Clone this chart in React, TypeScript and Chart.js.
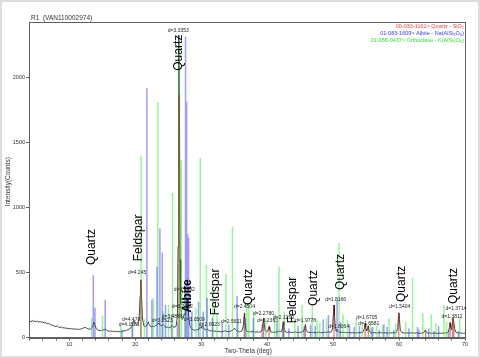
import React, { useEffect, useRef } from "react";
import { Chart, registerables } from "chart.js";
Chart.register(...registerables);

const xMin = 3.9;
const xMax = 70;
const yMax = 2430;
const yTicks = [0, 500, 1000, 1500, 2000];
const xTicks = [4, 6, 8, 10, 12, 14, 16, 18, 20, 22, 24, 26, 28, 30, 32, 34, 36, 38, 40, 42, 44, 46, 48, 50, 52, 54, 56, 58, 60, 62, 64, 66, 68, 70];
const xLabelled = [10, 20, 30, 40, 50, 60, 70];

const chartTitle = "R1  (VAN110002974)";
const xTitle = "Two-Theta (deg)";
const yTitle = "Intensity(Counts)";

// measured scan: [2-theta, counts]
const scan: [number, number][] = [
  [3.9, 125], [4.0, 128], [4.2, 122], [4.4, 130], [4.6, 124], [4.8, 127], [5.0, 121], [5.2, 126], [5.4, 119], [5.6, 123],
  [5.8, 117], [6.0, 120], [6.2, 112], [6.4, 115], [6.6, 108], [6.8, 104], [7.0, 107], [7.2, 98], [7.4, 95], [7.6, 92],
  [7.8, 87], [8.0, 84], [8.2, 88], [8.4, 80], [8.6, 77], [8.8, 81], [9.0, 74], [9.2, 76], [9.4, 71], [9.6, 73],
  [9.8, 68], [10.0, 70], [10.2, 66], [10.4, 69], [10.6, 64], [10.8, 67], [11.0, 63], [11.2, 66], [11.4, 61], [11.6, 64],
  [11.8, 66], [12.0, 70], [12.2, 74], [12.4, 78], [12.6, 72], [12.8, 68], [13.0, 63], [13.2, 66], [13.4, 72], [13.6, 95],
  [13.75, 118], [13.9, 96], [14.1, 68], [14.3, 58], [14.5, 55], [14.7, 52], [14.9, 55], [15.1, 60], [15.3, 58], [15.5, 64],
  [15.7, 56], [15.9, 50], [16.1, 48], [16.3, 51], [16.5, 46], [16.7, 49], [16.9, 45], [17.1, 48], [17.3, 44], [17.5, 47],
  [17.7, 43], [17.9, 46], [18.1, 48], [18.3, 52], [18.5, 50], [18.7, 56], [18.9, 60], [19.1, 66], [19.3, 72], [19.5, 90],
  [19.7, 118], [19.85, 132], [20.0, 110], [20.2, 98], [20.4, 104], [20.6, 150], [20.75, 320], [20.86, 445], [20.95, 330], [21.1, 150],
  [21.3, 92], [21.5, 84], [21.7, 90], [21.9, 108], [22.0, 120], [22.1, 102], [22.3, 86], [22.5, 82], [22.7, 88], [22.9, 84],
  [23.1, 92], [23.3, 98], [23.5, 112], [23.6, 104], [23.8, 96], [24.0, 90], [24.2, 102], [24.35, 94], [24.5, 84], [24.7, 78],
  [24.9, 80], [25.1, 74], [25.3, 78], [25.5, 86], [25.65, 92], [25.8, 80], [26.0, 78], [26.2, 90], [26.4, 160], [26.5, 700],
  [26.58, 1800], [26.64, 2330], [26.7, 1850], [26.8, 600], [26.9, 260], [27.0, 170], [27.1, 140], [27.3, 150], [27.45, 185], [27.6, 170],
  [27.75, 230], [27.88, 300], [28.0, 250], [28.15, 140], [28.3, 90], [28.5, 70], [28.7, 62], [28.9, 58], [29.1, 55], [29.3, 60],
  [29.5, 58], [29.7, 66], [29.85, 82], [30.0, 70], [30.15, 92], [30.3, 80], [30.5, 62], [30.7, 58], [30.9, 66], [31.1, 58],
  [31.3, 52], [31.5, 50], [31.7, 54], [31.9, 48], [32.1, 50], [32.3, 46], [32.5, 48], [32.7, 44], [32.9, 47], [33.1, 43],
  [33.3, 46], [33.5, 48], [33.7, 52], [33.9, 47], [34.1, 44], [34.3, 46], [34.5, 50], [34.7, 54], [34.9, 60], [35.05, 72],
  [35.2, 60], [35.4, 52], [35.6, 48], [35.8, 45], [36.0, 47], [36.2, 52], [36.4, 90], [36.5, 160], [36.55, 188], [36.62, 150],
  [36.75, 70], [36.9, 48], [37.1, 44], [37.3, 46], [37.5, 42], [37.7, 45], [37.9, 48], [38.1, 43], [38.3, 41], [38.5, 44],
  [38.7, 40], [38.9, 43], [39.1, 46], [39.3, 70], [39.42, 130], [39.47, 150], [39.55, 110], [39.7, 52], [39.9, 44], [40.1, 50],
  [40.25, 76], [40.3, 83], [40.4, 60], [40.6, 42], [40.8, 40], [41.0, 43], [41.2, 39], [41.4, 42], [41.6, 45], [41.8, 50],
  [42.0, 46], [42.2, 48], [42.35, 80], [42.45, 122], [42.55, 86], [42.7, 46], [42.9, 42], [43.1, 40], [43.3, 43], [43.5, 39],
  [43.7, 41], [43.9, 38], [44.1, 41], [44.3, 44], [44.5, 40], [44.7, 38], [44.9, 41], [45.1, 39], [45.3, 44], [45.5, 46],
  [45.7, 70], [45.8, 100], [45.9, 62], [46.1, 42], [46.3, 39], [46.5, 41], [46.7, 38], [46.9, 40], [47.1, 37], [47.3, 40],
  [47.5, 36], [47.7, 39], [47.9, 42], [48.1, 38], [48.3, 36], [48.5, 39], [48.7, 41], [48.9, 38], [49.1, 40], [49.3, 44],
  [49.5, 40], [49.7, 42], [49.9, 60], [50.05, 180], [50.14, 250], [50.22, 170], [50.35, 60], [50.5, 48], [50.62, 64], [50.75, 46],
  [50.9, 42], [51.1, 39], [51.3, 41], [51.5, 37], [51.7, 40], [51.9, 38], [52.1, 36], [52.3, 39], [52.5, 37], [52.7, 35],
  [52.9, 38], [53.1, 36], [53.3, 34], [53.5, 37], [53.7, 35], [53.9, 38], [54.1, 36], [54.3, 39], [54.5, 42], [54.7, 60],
  [54.85, 110], [54.95, 80], [55.1, 50], [55.25, 70], [55.33, 90], [55.45, 56], [55.6, 40], [55.8, 37], [56.0, 35], [56.2, 38],
  [56.4, 36], [56.6, 34], [56.8, 37], [57.0, 35], [57.2, 38], [57.4, 36], [57.6, 34], [57.8, 37], [58.0, 35], [58.2, 33],
  [58.4, 36], [58.6, 34], [58.8, 37], [59.0, 35], [59.2, 38], [59.4, 36], [59.6, 40], [59.8, 70], [59.92, 160], [59.98, 190],
  [60.06, 140], [60.2, 55], [60.4, 40], [60.6, 36], [60.8, 34], [61.0, 37], [61.2, 35], [61.4, 33], [61.6, 36], [61.8, 34],
  [62.0, 37], [62.2, 35], [62.4, 33], [62.6, 36], [62.8, 34], [63.0, 32], [63.2, 35], [63.4, 33], [63.6, 36], [63.8, 40],
  [64.0, 58], [64.1, 44], [64.3, 36], [64.5, 33], [64.7, 35], [64.9, 32], [65.1, 34], [65.3, 32], [65.5, 35], [65.7, 33],
  [65.9, 31], [66.1, 34], [66.3, 32], [66.5, 35], [66.7, 33], [66.9, 36], [67.1, 34], [67.3, 37], [67.5, 45], [67.65, 80],
  [67.74, 114], [67.82, 85], [67.95, 60], [68.05, 100], [68.15, 150], [68.3, 120], [68.42, 70], [68.6, 42], [68.8, 36], [69.0, 34],
  [69.2, 37], [69.4, 33], [69.6, 35], [69.8, 32], [70.0, 34],
];

// reference patterns: [2-theta, stick height]
const quartzSticks: [number, number][] = [
  [20.86, 440], [26.64, 1870], [36.54, 190], [39.47, 150], [40.29, 90], [42.45, 120], [45.79, 90], [50.14, 250],
  [54.87, 110], [55.33, 85], [59.96, 190], [64.03, 45], [67.74, 115], [68.14, 150], [68.31, 100],
];
const albiteSticks: [number, number][] = [
  [13.65, 480], [13.9, 230], [15.45, 290], [18.0, 60], [19.6, 90], [21.77, 1919], [22.53, 290], [23.3, 545],
  [23.75, 840], [24.1, 655], [24.6, 250], [25.5, 180], [26.4, 120], [27.63, 2316], [27.79, 1816], [27.94, 800],
  [28.1, 770], [28.6, 200], [29.6, 275], [30.3, 200], [30.9, 304], [31.7, 150], [33.2, 120], [34.2, 100],
  [35.45, 320], [36.7, 150], [37.9, 150], [39.25, 100], [41.5, 120], [42.4, 100], [43.3, 70], [44.7, 90],
  [45.6, 80], [46.6, 100], [47.3, 90], [48.5, 140], [49.3, 173], [50.6, 290], [51.1, 120], [52.5, 100],
  [53.2, 80], [54.0, 90], [55.9, 70], [56.0, 80], [57.0, 60], [57.7, 100], [58.2, 80], [59.2, 60],
  [61.5, 70], [62.8, 80], [63.0, 60], [64.5, 70], [65.3, 50], [66.0, 90], [67.5, 60], [69.0, 50],
];
const orthoclaseSticks: [number, number][] = [
  [13.4, 150], [15.05, 170], [17.8, 90], [19.5, 120], [20.9, 1398], [21.4, 140], [22.75, 300], [23.44, 1811],
  [24.25, 200], [25.05, 250], [25.66, 1113], [26.7, 2290], [26.98, 1367], [27.5, 350], [28.5, 160], [29.2, 230],
  [29.87, 1382], [30.8, 560], [31.8, 370], [32.4, 180], [33.75, 490], [34.75, 853], [35.6, 150], [36.9, 260],
  [37.2, 250], [38.0, 200], [39.8, 140], [41.15, 180], [41.8, 545], [42.6, 200], [44.2, 150], [45.3, 250],
  [46.85, 240], [47.6, 140], [48.0, 120], [49.0, 150], [50.9, 727], [51.5, 180], [52.2, 130], [53.5, 150],
  [54.4, 110], [55.7, 120], [56.6, 90], [57.5, 100], [58.5, 150], [59.5, 110], [61.0, 120], [62.05, 458],
  [63.6, 190], [64.9, 180], [65.6, 110], [66.8, 250], [67.2, 120], [69.2, 150],
];

const legendLines: [string, string][] = [
  ["00-033-1161> Quartz - SiO\u2082", "#ff3b3b"],
  ["01-083-1609> Albite - Na(AlSi\u2083O\u2088)", "#3b3bff"],
  ["01-086-0437> Orthoclase - K(AlSi\u2083O\u2088)", "#33e033"],
];

// phase labels: [text, 2-theta, counts (text centre), bold]
const phaseLabels: [string, number, number, boolean][] = [
  ["Quartz", 13.45, 697, false],
  ["Feldspar", 20.6, 767, false],
  ["Quartz", 26.53, 2193, false],
  ["Albite", 27.97, 320, true],
  ["Feldspar", 32.15, 351, false],
  ["Quartz", 37.17, 389, false],
  ["Feldspar", 43.86, 289, false],
  ["Quartz", 47.05, 382, false],
  ["Quartz", 51.15, 505, false],
  ["Quartz", 60.43, 412, false],
  ["Quartz", 68.33, 397, false],
];

// d-spacing peak labels: [text, 2-theta, counts (text centre)]
const dLabels: [string, number, number][] = [
  ["d=3.3353", 26.53, 2362],
  ["d=4.245", 20.29, 497],
  ["d=4.478", 19.38, 135],
  ["d=4.1581", 19.08, 96],
  ["d=3.8523", 24.09, 127],
  ["d=3.4886", 25.61, 158],
  ["d=3.1992", 27.44, 366],
  ["d=3.2462", 27.13, 235],
  ["d=3.0509", 28.96, 135],
  ["d=2.9923", 31.24, 96],
  ["d=2.5611", 34.58, 119],
  ["d=2.4504", 36.56, 235],
  ["d=2.2780", 39.45, 181],
  ["d=2.2363", 40.05, 127],
  ["d=2.1250", 42.49, 150],
  ["d=1.9778", 45.83, 127],
  ["d=1.8166", 50.39, 289],
  ["d=1.8064", 50.85, 81],
  ["d=1.6705", 55.11, 150],
  ["d=1.6581", 55.41, 104],
  ["d=1.5404", 60.12, 235],
  ["d=1.3714", 68.63, 220],
  ["d=1.3812", 68.03, 158],
];

const FONT = "'Liberation Sans', Arial, sans-serif";

const sticks = (s: [number, number][]) =>
  s.flatMap(([t, h]) => [
    { x: t, y: 0 },
    { x: t, y: h },
    { x: t, y: null as any },
  ]);

const overlay = {
  id: "overlay",
  beforeDraw(chart: any) {
    const ctx = chart.ctx;
    ctx.save();
    ctx.fillStyle = "#ffffff";
    ctx.fillRect(0, 0, chart.width, chart.height);
    ctx.restore();
  },
  afterDraw(chart: any) {
    const ctx = chart.ctx;
    const xs = chart.scales.x;
    const ys = chart.scales.y;
    const a = chart.chartArea;
    ctx.save();
    // outer frame
    ctx.strokeStyle = "#dcdcdc";
    ctx.lineWidth = 2;
    ctx.strokeRect(1, 1, chart.width - 2, chart.height - 2);
    // plot frame
    ctx.strokeStyle = "#606060";
    ctx.lineWidth = 1;
    ctx.strokeRect(Math.round(a.left) + 0.5, Math.round(a.top) + 0.5, Math.round(a.right - a.left), Math.round(a.bottom - a.top));
    // title
    ctx.fillStyle = "#333";
    ctx.font = `6.5px ${FONT}`;
    ctx.textAlign = "left";
    ctx.textBaseline = "middle";
    ctx.fillText(chartTitle, 31, 18);
    // axis titles
    ctx.textAlign = "center";
    ctx.fillText(xTitle, (a.left + a.right) / 2 + 1, 351);
    ctx.save();
    ctx.translate(8, (a.top + a.bottom) / 2 + 2);
    ctx.rotate(-Math.PI / 2);
    ctx.fillText(yTitle, 0, 0);
    ctx.restore();
    // legend
    ctx.font = `5.5px ${FONT}`;
    ctx.textAlign = "right";
    legendLines.forEach(([txt, col], i) => {
      ctx.fillStyle = col;
      ctx.fillText(txt, a.right - 1, a.top + 4.5 + i * 7);
    });
    // d labels
    ctx.font = `5px ${FONT}`;
    ctx.textAlign = "center";
    ctx.fillStyle = "#222";
    dLabels.forEach(([txt, t, c]) => {
      ctx.fillText(txt, xs.getPixelForValue(t), ys.getPixelForValue(c));
    });
    // phase labels
    ctx.fillStyle = "#000";
    phaseLabels.forEach(([txt, t, c, bold]) => {
      ctx.save();
      ctx.translate(xs.getPixelForValue(t), ys.getPixelForValue(c));
      ctx.rotate(-Math.PI / 2);
      ctx.font = `${bold ? "bold " : ""}12px ${FONT}`;
      ctx.textAlign = "center";
      ctx.textBaseline = "middle";
      ctx.fillText(txt, 0, 0);
      ctx.restore();
    });
    ctx.restore();
  },
};

export default function App() {
  const ref = useRef<HTMLCanvasElement>(null);
  useEffect(() => {
    if (!ref.current) return;
    const lineBase = {
      type: "line" as const,
      pointRadius: 0,
      fill: false,
      tension: 0,
      spanGaps: false,
    };
    const chart = new Chart(ref.current, {
      type: "line",
      data: {
        datasets: [
          { ...lineBase, label: "scan", data: scan.map(([x, y]) => ({ x, y })), borderColor: "#1a1a1a", borderWidth: 0.8, order: 10 },
          { ...lineBase, label: "Orthoclase", data: sticks(orthoclaseSticks), borderColor: "rgba(40,240,40,0.5)", borderWidth: 1.5, order: 3 },
          { ...lineBase, label: "Albite", data: sticks(albiteSticks), borderColor: "rgba(50,50,255,0.48)", borderWidth: 1.5, order: 2 },
          { ...lineBase, label: "Quartz", data: sticks(quartzSticks), borderColor: "rgba(200,0,0,0.55)", borderWidth: 1.2, order: 1 },
        ],
      },
      options: {
        animation: false,
        responsive: false,
        maintainAspectRatio: false,
        events: [],
        layout: { padding: { left: 0, top: 22, right: 15, bottom: 0 } },
        plugins: { legend: { display: false }, tooltip: { enabled: false }, title: { display: false } },
        scales: {
          x: {
            type: "linear",
            min: xMin,
            max: xMax,
            afterFit: (s: any) => { s.height = 20.5; },
            afterBuildTicks: (s: any) => { s.ticks = xTicks.map((v) => ({ value: v })); },
            ticks: {
              autoSkip: false,
              maxRotation: 0,
              padding: 1,
              color: "#333",
              font: { size: 5.5, family: FONT },
              callback: (v: any) => (xLabelled.includes(Number(v)) ? String(v) : ""),
            },
            grid: { drawOnChartArea: false, tickLength: 3, color: "#606060" },
            border: { color: "#606060" },
          },
          y: {
            type: "linear",
            min: 0,
            max: yMax,
            afterFit: (s: any) => { s.width = 29; },
            afterBuildTicks: (s: any) => { s.ticks = yTicks.map((v) => ({ value: v })); },
            ticks: {
              padding: 1,
              color: "#333",
              font: { size: 5.5, family: FONT },
              callback: (v: any) => String(v),
            },
            grid: { drawOnChartArea: false, tickLength: 3, color: "#606060" },
            border: { color: "#606060" },
          },
        },
      },
      plugins: [overlay],
    } as any);
    return () => chart.destroy();
  }, []);
  return (
    <div style={{ position: "absolute", left: 0, top: 0, width: 480, height: 358, background: "#fff" }}>
      <canvas ref={ref} width={480} height={358} style={{ width: 480, height: 358, display: "block" }} />
    </div>
  );
}
